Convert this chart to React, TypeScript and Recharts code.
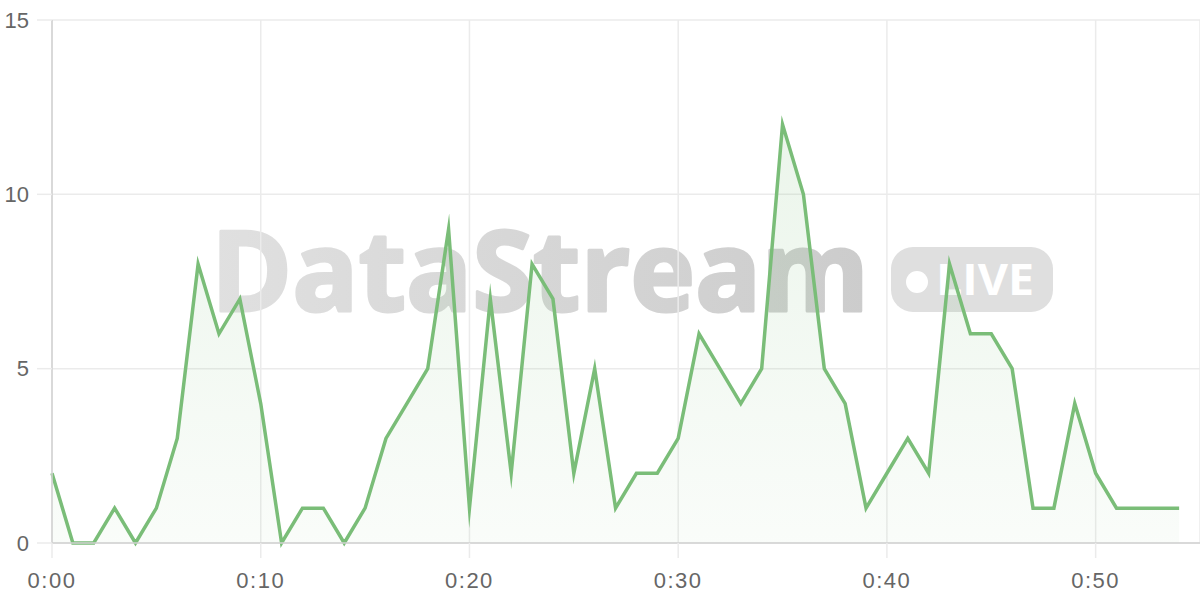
import { AreaChart, Area, XAxis, YAxis, CartesianGrid } from 'recharts'

// ─── Data ─────────────────────────────────────────────────────────────────────

const VALUES = [
  2, 0, 0, 1, 0, 1, 3, 8, 6, 7,
  4, 0, 1, 1, 0, 1, 3, 4, 5, 9,
  1, 7, 2, 8, 7, 2, 5, 1, 2, 2,
  3, 6, 5, 4, 5, 12, 10, 5, 4, 1,
  2, 3, 2, 8, 6, 6, 5, 1, 1, 4,
  2, 1, 1, 1, 1,
]
const MINUTES = VALUES.map((_, i) => i)
const X_TICKS = [0, 10, 20, 30, 40, 50]
const Y_TICKS = [0, 5, 10, 15]

const data = MINUTES.map((m, i) => ({ minute: m, count: VALUES[i] }))

// ─── Style ────────────────────────────────────────────────────────────────────

const GREEN = '#7abd78'
const GRID = '#ebebeb'
const AXIS = '#d2d2d2'
const FONT = '"Liberation Sans", Arial, sans-serif'
const Y_TICK_FONT = { fontSize: 22, fill: '#666', fontFamily: FONT }
const X_TICK_FONT = { fontSize: 22, fill: '#666', fontFamily: FONT, letterSpacing: 1.5 }

const fmtTime = (m: number) => `0:${String(m).padStart(2, '0')}`

// ─── Watermark ────────────────────────────────────────────────────────────────

function Watermark() {
  return (
    <svg width={1200} height={600} style={{ position: 'absolute', left: 0, top: 0 }}>
      <defs>
        <linearGradient id="wm" x1="0" y1="0" x2="1" y2="0">
          <stop offset="0%" stopColor="#e0e0e0" />
          <stop offset="100%" stopColor="#cccccc" />
        </linearGradient>
      </defs>
      <text
        x={211}
        y={311}
        fontSize={112}
        fontWeight={700}
        fontFamily='"Open Sans", "Noto Sans", sans-serif'
        fill="url(#wm)"
        stroke="url(#wm)"
        strokeWidth={3}
        strokeLinejoin="round"
        textLength={658}
        lengthAdjust="spacingAndGlyphs"
      >
        DataStream
      </text>
      <rect x={891} y={247} width={162} height={65} rx={22} fill="#dfdfdf" />
      <circle cx={917} cy={282} r={11} fill="#fff" />
      <text
        x={936}
        y={295}
        fontSize={43}
        fontWeight={700}
        fontFamily='"Open Sans", "Noto Sans", sans-serif'
        fill="#fff"
        textLength={98}
        lengthAdjust="spacingAndGlyphs"
      >
        LIVE
      </text>
    </svg>
  )
}

// ─── App ──────────────────────────────────────────────────────────────────────

export default function App() {
  return (
    <div style={{ position: 'relative', width: 1200, height: 600, background: '#fff' }}>
      <style>{'body{margin:0}'}</style>
      <Watermark />
      <div style={{ position: 'absolute', left: 0, top: 0 }}>
        <AreaChart width={1200} height={600} data={data} margin={{ top: 20, right: 0, bottom: 0, left: 0 }}>
          <defs>
            <linearGradient id="fillGreen" x1="0" y1="0" x2="0" y2="1">
              <stop offset="0%" stopColor={GREEN} stopOpacity={0.25} />
              <stop offset="100%" stopColor={GREEN} stopOpacity={0.07} />
            </linearGradient>
          </defs>
          <CartesianGrid stroke={GRID} strokeWidth={1.5} />
          <XAxis
            dataKey="minute"
            type="number"
            domain={[0, 55]}
            ticks={X_TICKS}
            tickFormatter={fmtTime}
            height={57}
            tickSize={15}
            tickMargin={14}
            tickLine={{ stroke: GRID, strokeWidth: 1.5 }}
            axisLine={{ stroke: AXIS, strokeWidth: 1.5 }}
            tick={X_TICK_FONT}
          />
          <YAxis
            domain={[0, 15]}
            ticks={Y_TICKS}
            width={52}
            tickSize={15}
            tickMargin={8}
            tickLine={{ stroke: GRID, strokeWidth: 1.5 }}
            axisLine={{ stroke: AXIS, strokeWidth: 1.5 }}
            tick={Y_TICK_FONT}
          />
          <Area
            type="linear"
            dataKey="count"
            stroke={GREEN}
            strokeWidth={3.5}
            strokeMiterlimit={20}
            fill="url(#fillGreen)"
            dot={false}
            activeDot={false}
            isAnimationActive={false}
          />
        </AreaChart>
      </div>
    </div>
  )
}
